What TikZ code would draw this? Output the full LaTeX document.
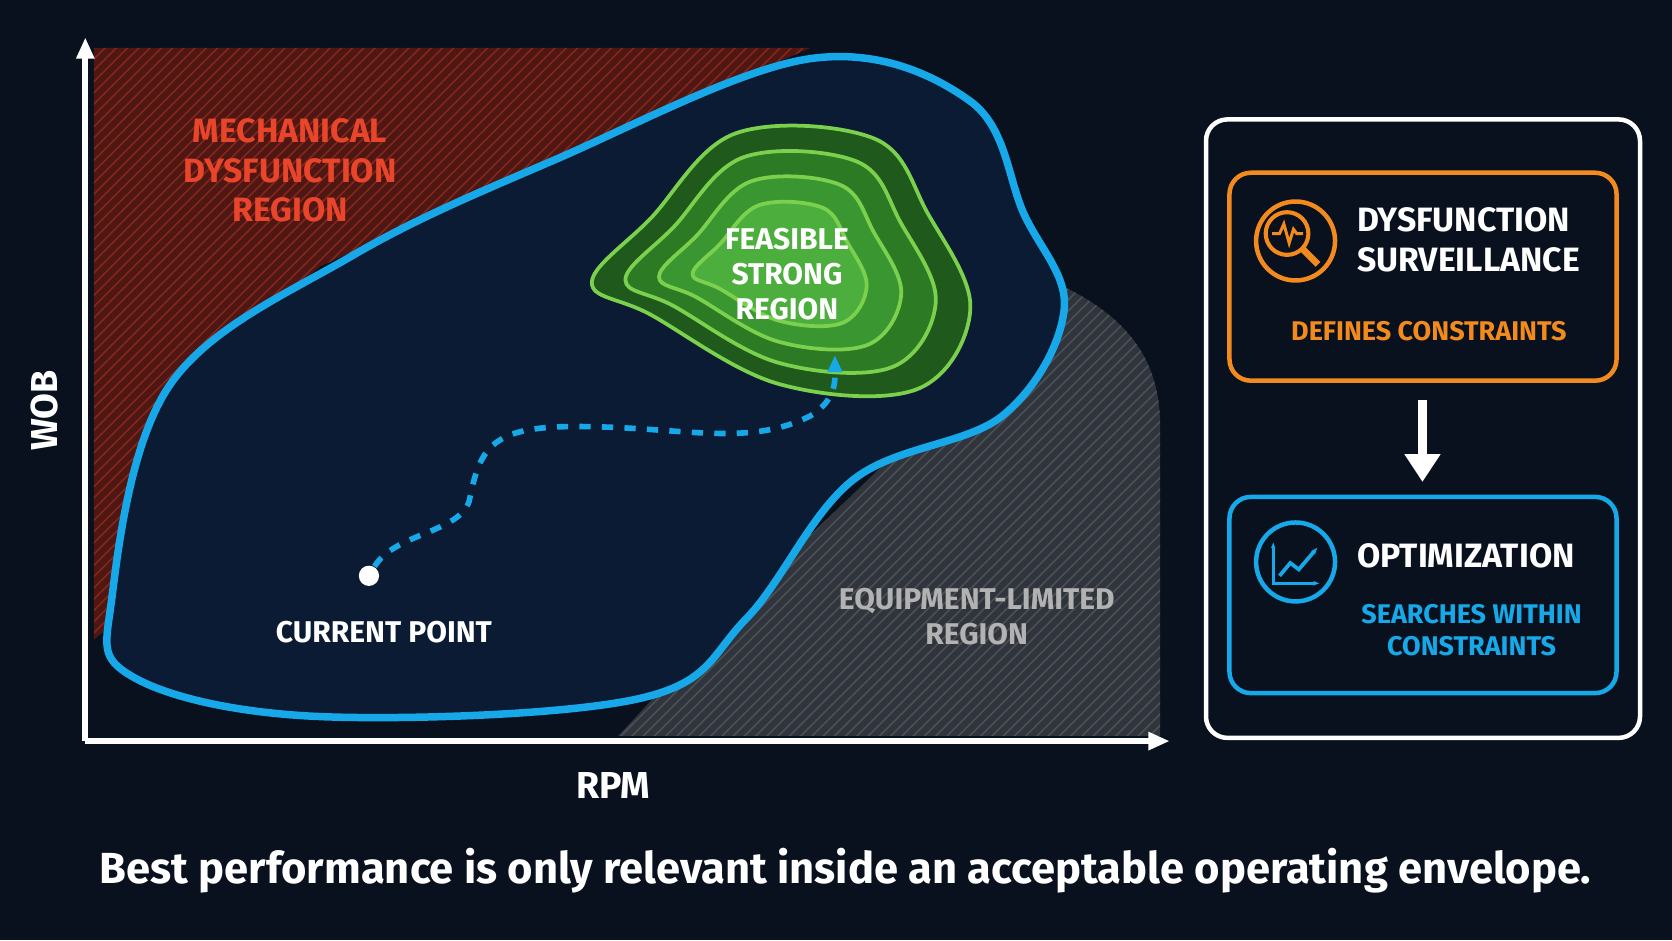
\documentclass[tikz,border=0pt]{standalone}
\usepackage{fontspec}
\setmainfont{Fira Sans}
\usetikzlibrary{calc,arrows.meta,positioning,patterns}
\definecolor{bgnavy}{HTML}{08111D}
\definecolor{envfill}{HTML}{0B1B33}
\definecolor{envblue}{HTML}{16A8E8}
\definecolor{mechred}{HTML}{4E1713}
\definecolor{mechtext}{HTML}{E8452A}
\definecolor{equipgrey}{HTML}{30353D}
\definecolor{greenA}{HTML}{1F5A1C}
\definecolor{greenB}{HTML}{2C7A24}
\definecolor{greenC}{HTML}{3A9630}
\definecolor{greenD}{HTML}{4CAE3C}
\definecolor{greenline}{HTML}{7BD04E}
\definecolor{orangebox}{HTML}{F28A1E}
\tikzset{
  lbl/.style={font=\bfseries\fontsize{8}{9.4}\selectfont, align=center, inner sep=0pt},
  boxtitle/.style={font=\bfseries\fontsize{9}{10.6}\selectfont, align=left, text=white, inner sep=0pt},
  boxsub/.style={font=\bfseries\fontsize{7.2}{8.6}\selectfont, align=center, inner sep=0pt},
  panel/.style={draw, rounded corners=0.2cm, line width=1.2pt},
  axisarrow/.style={draw=white, line width=1.6pt, -{Triangle[length=0.2cm,width=0.16cm]}}
}
\begin{document}
\begin{tikzpicture}[x=0.01cm,y=-0.01cm]
\useasboundingbox[fill=bgnavy] (0,0) rectangle (1568,882);
% mechanical region
\fill[mechred] (88,45) -- (760,45) -- (520,150) -- (300,250) -- (150,380) -- (100,590) -- (88,600) -- cycle;
\fill[pattern=north east lines, pattern color=mechtext!35!mechred] (88,45) -- (760,45) -- (520,150) -- (300,250) -- (150,380) -- (100,590) -- (88,600) -- cycle;
% equipment region
\fill[equipgrey] (1000,270) .. controls (1060,300) and (1088,340) .. (1088,400) -- (1088,690) -- (580,690) -- (700,560) -- cycle;
\fill[pattern=north east lines, pattern color=gray!35!equipgrey] (1000,270) .. controls (1060,300) and (1088,340) .. (1088,400) -- (1088,690) -- (580,690) -- (700,560) -- cycle;
% envelope
\draw[envblue, fill=envfill, line width=2pt] plot[smooth cycle, tension=0.6] coordinates {
  (105,560) (160,360) (330,240) (520,150) (760,55) (910,95) (960,200) (998,290)
  (940,390) (800,450) (700,580) (600,655) (300,672) (125,635)};
% feasible contours
\foreach \s/\c in {1/greenA,0.82/greenB,0.64/greenC,0.46/greenD}{
  \draw[greenline, fill=\c, line width=1pt, shift={(730,250)}, scale=\s]
    plot[smooth cycle, tension=0.6] coordinates {
    (-175,15) (-120,-45) (-40,-125) (90,-120) (140,-50) (180,40) (130,115) (0,110) (-120,45)};
}
\node[lbl, text=white] (feasible) at (738,257) {FEASIBLE\\STRONG\\REGION};
% path
\node[circle, fill=white, inner sep=0pt, minimum size=0.19cm] (current) at (346,540) {};
\coordinate (target) at (783,333);
\draw[envblue, line width=1.5pt, dashed, -{Triangle[length=0.16cm,width=0.13cm]}]
  (current) .. controls (370,500) and (430,500) .. (440,470)
  .. controls (450,420) and (460,400) .. (540,400)
  .. controls (640,400) and (700,420) .. (760,390)
  .. controls (785,375) and (783,355) .. (target);
\node[lbl, text=white, below=0.32cm of current, xshift=0.14cm] (currentlbl) {CURRENT POINT};
% region labels
\node[lbl, text=mechtext, font=\bfseries\fontsize{9}{10.5}\selectfont] (mechlbl) at (272,160) {MECHANICAL\\DYSFUNCTION\\REGION};
\node[lbl, text=gray!60] (equiplbl) at (916,578) {EQUIPMENT-LIMITED\\REGION};
% axes
\coordinate (origin) at (80,695);
\draw[axisarrow] (origin) -- (80,35);
\draw[axisarrow] (origin) -- (1097,695);
\node[font=\bfseries\fontsize{10}{12}\selectfont, text=white, rotate=90] (wob) at (42,385) {WOB};
\node[font=\bfseries\fontsize{10}{12}\selectfont, text=white] (rpm) at (575,737) {RPM};
% right panel
\draw[panel, draw=white] (1131,112) rectangle (1538,692);
\draw[panel, draw=orangebox] (1153,162) rectangle (1516,357);
\draw[panel, draw=envblue] (1153,466) rectangle (1516,650);
% surveillance icon
\node[circle, draw=orangebox, line width=1.2pt, minimum size=0.74cm] (survicon) at (1215,226) {};
\draw[orangebox, line width=1.1pt] (1207,219) circle (0.2cm);
\draw[orangebox, line width=1.8pt] (1221,233) -- (1236,248);
\draw[orangebox, line width=0.8pt] (1193,219) -- (1200,219) -- (1204,210) -- (1209,228) -- (1213,215) -- (1216,219) -- (1222,219);
\node[boxtitle, anchor=west] (survtitle) at (1272,225) {DYSFUNCTION\\SURVEILLANCE};
\node[boxsub, text=orangebox] (survsub) at (1340,311) {DEFINES CONSTRAINTS};
% optimization icon
\node[circle, draw=envblue, line width=1.2pt, minimum size=0.74cm] (opticon) at (1215,527) {};
\draw[envblue, line width=0.9pt, {Latex[length=0.06cm]}-{Latex[length=0.06cm]}] (1194,508) -- (1194,547) -- (1238,547);
\draw[envblue, line width=1pt, -{Latex[length=0.07cm]}] (1200,540) -- (1210,528) -- (1218,534) -- (1236,513);
\node[boxtitle, anchor=west] (opttitle) at (1272,521) {OPTIMIZATION};
\node[boxsub, text=envblue] (optsub) at (1380,591) {SEARCHES WITHIN\\CONSTRAINTS};
% flow arrow
\coordinate (flowtop) at (1334,375);
\coordinate (flowbot) at (1334,452);
\draw[white, line width=2.5pt, -{Triangle[length=0.26cm,width=0.32cm]}] (flowtop) -- (flowbot);
% caption
\node[font=\bfseries\fontsize{11.6}{13}\selectfont, text=white] (caption) at (793,817) {Best performance is only relevant inside an acceptable operating envelope.};
\end{tikzpicture}
\end{document}
